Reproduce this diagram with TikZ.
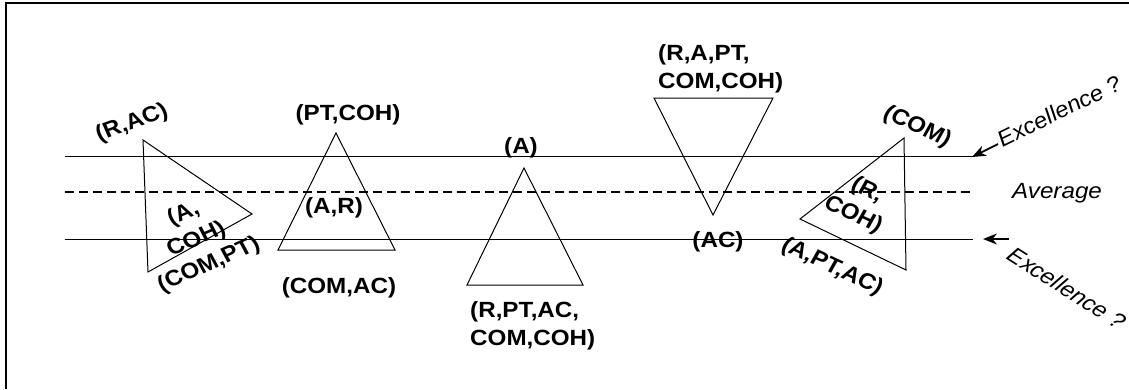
\documentclass[tikz,border=0pt]{standalone}
\usepackage{fontspec}
\setmainfont{Liberation Sans}
\usetikzlibrary{arrows.meta}

\begin{document}
\begin{tikzpicture}[x=1pt,y=-1pt,>={Stealth[length=14pt,width=11pt]},
                    lbl/.style={font=\bfseries\fontsize{22}{28}\selectfont,inner sep=0pt,xscale=1.1},
                    note/.style={font=\itshape\fontsize{22}{28}\selectfont,inner sep=0pt,xscale=1.1},
                    tri/.style={draw,line width=1pt,line join=miter},
                    level/.style={line width=1pt}]

  \useasboundingbox (0,0) rectangle (1129,389);
  \draw[line width=2pt] (6,389) -- (6,3) -- (1129,3);

  % the three levels
  \coordinate (hi west) at (65,156);  \coordinate (hi east) at (973,156);
  \coordinate (av west) at (65,192);  \coordinate (av east) at (973,192);
  \coordinate (lo west) at (65,239);  \coordinate (lo east) at (973,239);
  \draw[level] (hi west) -- (hi east);
  \draw[level,line width=1.4pt,dash pattern=on 9pt off 5pt] (av west) -- (av east);
  \draw[level] (lo west) -- (lo east);

  % triangles
  \draw[tri] (143,140) -- (252,214) -- (148,272) -- cycle;
  \draw[tri] (336,133) -- (278,250) -- (395,250) -- cycle;
  \draw[tri] (524,168) -- (467,285) -- (583,285) -- cycle;
  \draw[tri] (654,98) -- (773,98) -- (713,215) -- cycle;
  \draw[tri] (904,138) -- (800,219) -- (906,270) -- cycle;

  \node[lbl,rotate=22] (t1 top) at (132,123) {(R,AC)};
  \node[lbl,rotate=25,align=center] (t1 mid) at (190,227) {(A,\\COH)};
  \node[lbl,rotate=26] (t1 bot) at (209,265) {(COM,PT)};

  \node[lbl,anchor=base] (t2 top) at (348,120) {(PT,COH)};
  \node[lbl,anchor=base] (t2 mid) at (334,213) {(A,R)};
  \node[lbl,anchor=base] (t2 bot) at (339,293) {(COM,AC)};

  \node[lbl,anchor=base] (t3 top) at (521,153) {(A)};
  \node[lbl,anchor=base west,align=left] (t3 bot) at (470,345) {(R,PT,AC,\\COM,COH)};

  \node[lbl,anchor=base west,align=left] (t4 top) at (658,88) {(R,A,PT,\\COM,COH)};
  \node[lbl,anchor=base] (t4 bot) at (718,247) {(AC)};

  \node[lbl,rotate=-27] (t5 top) at (917,127) {(COM)};
  \node[lbl,rotate=-27,align=center] (t5 mid) at (860,203) {(R,\\COH)};
  \node[lbl,rotate=-27] (t5 bot) at (832,267) {(A,PT,AC)};

  \node[note,anchor=base west] (avg) at (1012,198) {Average};
  \node[note,rotate=28] (exc up) at (1059,111) {Excellence ?};
  \node[note,rotate=-35] (exc down) at (1067,288) {Excellence ?};

  \coordinate (up tail) at (998,144);   \coordinate (up tip) at (972,157);
  \coordinate (down tail) at (1009,239); \coordinate (down tip) at (983,239);
  \draw[->,line width=1.8pt] (up tail) -- (up tip);
  \draw[->,line width=1.8pt] (down tail) -- (down tip);
\end{tikzpicture}
\end{document}
